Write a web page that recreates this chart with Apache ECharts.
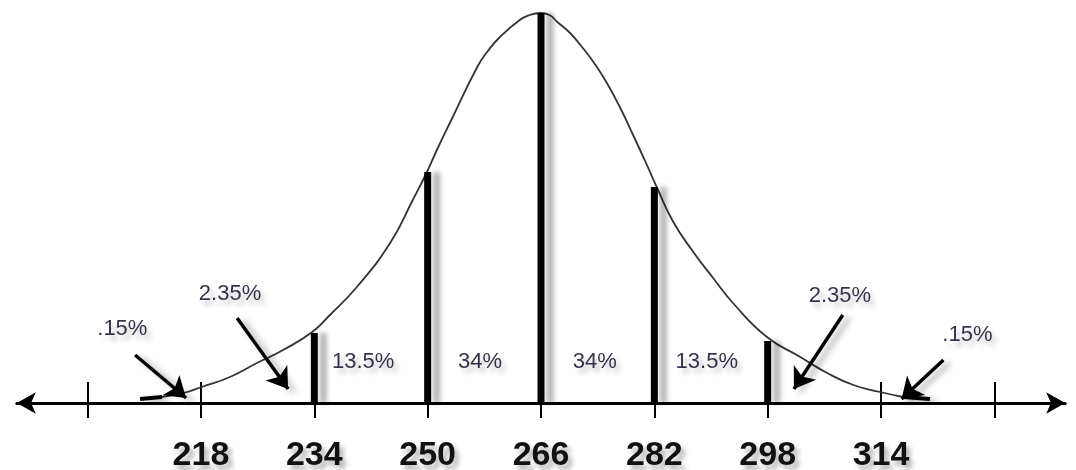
<!DOCTYPE html>
<html>
<head>
<meta charset="utf-8">
<script src="https://cdn.jsdelivr.net/npm/echarts@6/dist/echarts.min.js"></script>
<style>
  html, body { margin: 0; padding: 0; background: #fff; }
  #chart { width: 1076px; height: 470px; }
</style>
</head>
<body>
<div id="chart"></div>
<script>
// bell curve (x value, height above axis)
const curveX = [212.5, 215.5, 218.1, 222.1, 225.9, 229.6, 233.7, 236.2, 240.0, 244.7,
  247.9, 249.9, 251.3, 253.2, 257.0, 258.5, 260.2, 263.0, 264.4, 265.9,
  267.2, 268.3, 270.1, 271.9, 273.6, 275.3, 277.2, 279.0, 280.7, 282.4,
  284.6, 287.5, 290.3, 293.1, 297.9, 302.6, 306.4, 310.1, 313.9, 317.1];
const curveY = [6, 10, 16, 26, 40, 53, 71, 88, 116, 160,
  203, 231, 253, 281, 336, 352, 366, 383, 388, 390,
  388, 381, 370, 355, 339, 320, 295, 268, 242, 215,
  182, 151, 125, 100, 66, 46, 30, 18, 11, 6];

// thick vertical lines at each standard deviation
const barX = [234, 250, 266, 282, 298];
const barH = [70, 231, 390, 216, 62];

// short thick tails lying on the axis
const tailLeft = [[209.4, 4], [212.5, 6]];
const tailRight = [[317.1, 6], [320.9, 4]];

const tickValues = [202, 218, 234, 250, 266, 282, 298, 314, 330];
const labelValues = [218, 234, 250, 266, 282, 298, 314];

// percentage labels
const pctText = ['.15%', '2.35%', '13.5%', '34%', '34%', '13.5%', '2.35%', '.15%'];
const pctX = [206.9, 222.1, 240.9, 257.4, 273.6, 289.4, 308.2, 326.2];
const pctY = [74, 109, 41, 41, 41, 41, 107, 68];

// pointer arrows: start -> tip
const arrowFrom = [[208.7, 48], [223.1, 85], [308.6, 88], [322.8, 43]];
const arrowTo = [[215.9, 5], [230.3, 14], [301.7, 14], [316.9, 4]];

const shadow = {
  shadowColor: 'rgba(0,0,0,0.35)',
  shadowBlur: 6,
  shadowOffsetX: 6,
  shadowOffsetY: 3
};

const textShadow = {
  textShadowColor: 'rgba(0,0,0,0.3)',
  textShadowBlur: 5,
  textShadowOffsetX: 4,
  textShadowOffsetY: 5
};

const chart = echarts.init(document.getElementById('chart'), null, { renderer: 'canvas' });

chart.setOption({
  animation: false,
  grid: { left: 16.8, right: 10.8, top: 13, bottom: 67, outerBoundsMode: 'none', containLabel: false },
  xAxis: [
    {
      type: 'value',
      min: 192,
      max: 340,
      splitLine: { show: false },
      axisLine: {
        show: true,
        onZero: false,
        symbol: ['arrow', 'arrow'],
        symbolSize: [16, 19],
        lineStyle: { color: '#000', width: 3 }
      },
      axisTick: {
        show: true,
        inside: false,
        length: 15,
        customValues: tickValues,
        lineStyle: { color: '#000', width: 2 }
      },
      axisLabel: {
        show: true,
        customValues: labelValues,
        margin: 36,
        fontFamily: 'Liberation Sans, Arial, sans-serif',
        fontWeight: 'bold',
        fontSize: 34,
        color: '#111',
        ...textShadow
      }
    },
    {
      type: 'value',
      min: 192,
      max: 340,
      position: 'bottom',
      splitLine: { show: false },
      axisLine: { show: false, onZero: false },
      axisTick: {
        show: true,
        inside: true,
        length: 21,
        customValues: tickValues,
        lineStyle: { color: '#000', width: 2 }
      },
      axisLabel: { show: false }
    }
  ],
  yAxis: {
    type: 'value',
    min: 0,
    max: 390,
    show: false
  },
  series: [
    {
      type: 'line',
      data: curveX.map((x, i) => [x, curveY[i]]),
      smooth: 0.5,
      symbol: 'none',
      lineStyle: { color: '#333', width: 1.8 },
      z: 2
    },
    {
      type: 'line',
      data: tailLeft,
      symbol: 'none',
      lineStyle: { color: '#000', width: 4, ...shadow },
      z: 3
    },
    {
      type: 'line',
      data: tailRight,
      symbol: 'none',
      lineStyle: { color: '#000', width: 4, ...shadow },
      z: 3
    },
    {
      type: 'bar',
      data: barX.map((x, i) => [x, barH[i]]),
      barWidth: 7,
      itemStyle: {
        color: '#000',
        shadowColor: 'rgba(0,0,0,0.3)',
        shadowBlur: 5,
        shadowOffsetX: 9,
        shadowOffsetY: 0
      },
      z: 3
    },
    {
      type: 'scatter',
      data: pctText.map((t, i) => ({ name: t, value: [pctX[i], pctY[i]] })),
      symbolSize: 1,
      itemStyle: { color: 'rgba(0,0,0,0)' },
      label: {
        show: true,
        position: 'inside',
        formatter: '{b}',
        fontFamily: 'Liberation Sans, Arial, sans-serif',
        fontSize: 22,
        color: '#000020',
        ...textShadow
      },
      silent: true,
      z: 4,
      markLine: {
        silent: true,
        symbol: ['none', 'arrow'],
        symbolSize: 20,
        label: { show: false },
        lineStyle: { color: '#000', width: 3.5, type: 'solid', ...shadow },
        emphasis: { disabled: true },
        data: arrowFrom.map((p, i) => [{ coord: p }, { coord: arrowTo[i] }])
      }
    }
  ]
});
</script>
</body>
</html>
